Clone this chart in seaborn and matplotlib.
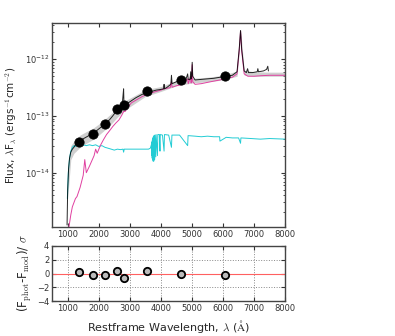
import numpy as np
import pandas as pd
import matplotlib
matplotlib.use("Agg")
import matplotlib.pyplot as plt
import seaborn as sns

# ---- data (flux values in units of 1e-14 erg s^-1 cm^-2) ----
wl_tot = [980, 1000, 1030, 1060, 1100, 1150, 1200, 1250, 1300, 1350, 1450, 1550, 1650,
          1750, 1850, 1950, 2050, 2150, 2250, 2350, 2450, 2550, 2650, 2750, 2790, 2800,
          2810, 2850, 2950, 3050, 3200, 3400, 3550, 3700, 3850, 3950, 4090, 4102, 4115,
          4200, 4320, 4340, 4360, 4500, 4650, 4800, 4861, 4880, 4940, 4959, 4975, 4990,
          5007, 5025, 5100, 5300, 5500, 5700, 5900, 6100, 6300, 6450, 6520, 6563, 6600,
          6680, 6750, 6790, 6820, 6950, 7100, 7120, 7140, 7300, 7400, 7440, 7460]
fl_tot = [0.12, 0.5, 1.2, 1.8, 2.3, 2.6, 2.8, 3.1, 3.3, 3.5, 3.8, 4.1, 4.4,
          4.7, 5.0, 5.6, 6.2, 6.9, 7.6, 8.6, 10.0, 11.8, 13.0, 14.5, 26, 30,
          18, 15.5, 17, 18.5, 21, 24, 26, 27, 28.5, 29, 30, 36, 30,
          32, 36, 52, 37, 40, 42, 43, 55, 44, 44, 60, 45, 50,
          88, 50, 43, 44, 45, 46, 48, 50, 52, 60, 150, 320, 150,
          62, 58, 68, 58, 58, 60, 68, 60, 62, 66, 75, 62]

wl_band = [1000, 1100, 1200, 1400, 1600, 1800, 2000, 2200, 2400, 2600, 2800, 3000,
           3500, 4000, 4500, 5000, 5500, 6000, 6450, 6563, 6680, 7000, 7500, 8000]
band_lo = [0.35, 1.7, 2.2, 2.8, 3.3, 3.8, 4.6, 5.7, 7.2, 9.5, 12.0, 14.5,
           22, 27, 34, 38, 40, 43, 50, 250, 52, 50, 50, 50]
band_hi = [0.9, 3.0, 3.6, 4.6, 5.3, 6.0, 7.2, 8.8, 11.0, 14.0, 18.0, 20.5,
           29, 33, 42, 46, 48, 52, 62, 340, 64, 60, 59, 59]

wl_gal = [1040, 1100, 1150, 1250, 1300, 1400, 1500, 1550, 1600, 1700, 1850, 1900,
          1950, 2050, 2150, 2250, 2350, 2450, 2550, 2650, 2750, 2800, 2850, 2950,
          3050, 3200, 3400, 3550, 3700, 3850, 4000, 4100, 4300, 4340, 4360, 4500,
          4700, 4861, 4880, 4959, 4975, 5007, 5025, 5100, 5300, 5500, 5700, 5900,
          6100, 6300, 6450, 6520, 6563, 6600, 6680, 6800, 7000, 7200, 7500, 8000]
fl_gal = [0.11, 0.18, 0.25, 0.35, 0.38, 0.55, 0.9, 1.7, 1.0, 1.3, 2.0, 2.6,
          2.2, 3.0, 3.8, 4.7, 5.5, 6.5, 7.5, 8.5, 10.5, 12, 12, 14.5,
          17, 19, 22, 24, 25.5, 27, 28.5, 30, 31.5, 40, 32, 34,
          36, 45, 37, 50, 38, 80, 40, 36, 37, 39, 41, 43,
          46, 48, 55, 140, 310, 140, 55, 50, 50, 51, 52, 52]

wl_agn = [990, 1020, 1060, 1100, 1150, 1200, 1250, 1300, 1400, 1500, 1600, 1700,
          1800, 1900, 2000, 2100, 2200, 2300, 2400, 2500, 2600, 2700, 2780, 2800,
          2820, 2900, 3000, 3200, 3400, 3600, 3660, 3700, 3705, 3712, 3720, 3726,
          3734, 3742, 3750, 3758, 3771, 3780, 3798, 3806, 3835, 3845, 3889, 3900,
          3950, 3970, 3980, 4050, 4102, 4115, 4250, 4340, 4355, 4600, 4861, 4875,
          5100, 5300, 5500, 5700, 5890, 5900, 6100, 6300, 6500, 6563, 6575, 6900,
          7200, 7500, 8000]
fl_agn = [0.35, 1.0, 1.8, 2.4, 2.8, 3.0, 2.9, 3.1, 3.0, 3.1, 3.0, 3.1,
          3.0, 3.1, 2.9, 3.0, 2.8, 2.7, 2.6, 2.5, 2.6, 2.55, 2.6, 2.3,
          2.6, 2.6, 2.6, 2.6, 2.6, 2.6, 2.7, 3.2, 2.0, 3.5, 1.8, 3.8,
          1.7, 4.1, 1.6, 4.3, 1.6, 4.5, 1.7, 4.6, 1.9, 4.7, 2.0, 4.7,
          4.7, 2.4, 4.7, 4.6, 2.4, 4.7, 4.6, 2.8, 4.6, 4.6, 3.0, 4.5,
          4.4, 4.3, 4.4, 4.3, 4.3, 3.6, 4.2, 4.1, 4.1, 3.3, 4.1, 4.0,
          3.9, 4.0, 3.9]

phot_wl = [1350, 1800, 2200, 2600, 2800, 3550, 4650, 6050]
phot_fl = [3.5, 4.8, 7.2, 13.3, 15.6, 27.5, 43, 50]
resid = [0.2, -0.2, -0.2, 0.3, -0.6, 0.4, -0.1, -0.2]

unit = 1e-14

sns.set_style("ticks", {"xtick.direction": "in", "ytick.direction": "in"})
plt.rcParams['font.family'] = ['DejaVu Sans']
plt.rcParams['mathtext.fontset'] = 'cm'

fig = plt.figure(figsize=(3.95, 3.36), dpi=100)
ax = fig.add_axes([0.132, 0.324, 0.590, 0.607])
axr = fig.add_axes([0.132, 0.104, 0.590, 0.164])

ax.set_yscale('log')
ax.fill_between(wl_band, np.array(band_lo) * unit, np.array(band_hi) * unit,
                color='#b0b0b0', alpha=0.6, lw=0)
sns.lineplot(x=wl_agn, y=np.array(fl_agn) * unit, ax=ax, color='#22ccd4', lw=0.7,
             sort=False, estimator=None)
sns.lineplot(x=wl_gal, y=np.array(fl_gal) * unit, ax=ax, color='#e040a0', lw=0.7,
             sort=False, estimator=None)
sns.lineplot(x=wl_tot, y=np.array(fl_tot) * unit, ax=ax, color='black', lw=0.7,
             alpha=0.85, sort=False, estimator=None)
sns.scatterplot(x=phot_wl, y=np.array(phot_fl) * unit, ax=ax, color='black', s=45,
                edgecolor='black', zorder=5)

ax.set_xlim(500, 8000)
ax.set_ylim(1.1e-15, 4.3e-12)
ax.set_xticks(range(1000, 8001, 1000))
ax.set_yticks([1e-14, 1e-13, 1e-12])
ax.set_ylabel(r'Flux, $\lambda$F$_\lambda$ (ergs$^{-1}$cm$^{-2}$)', fontsize=7.5,
              fontfamily='DejaVu Sans')

axr.axhline(0, color='#ff6060', lw=0.8, zorder=1)
sns.scatterplot(x=phot_wl, y=resid, ax=axr, color='#bbbbbb', s=28, edgecolor='black',
                linewidth=1.3, zorder=5)
axr.set_xlim(500, 8000)
axr.set_ylim(-4, 4)
axr.set_xticks(range(1000, 8001, 1000))
axr.set_yticks([-4, -2, 0, 2, 4])
axr.grid(True, ls=':', color='#888888', lw=0.7)
axr.set_xlabel(r'Restframe Wavelength, $\lambda$ ($\mathrm{\AA}$)', fontsize=8)
axr.set_ylabel(r'(F$_{\rm phot}$-F$_{\rm mod}$)/ $\sigma$', fontsize=8.5, labelpad=2)

for a in (ax, axr):
    a.tick_params(which='both', top=True, right=True, labelsize=6, colors='#333333',
                  length=3, pad=2)
    a.tick_params(which='minor', length=1.5)
    for s in a.spines.values():
        s.set_color('#444444')
        s.set_linewidth(1.0)

fig.savefig('out.png', dpi=100)
